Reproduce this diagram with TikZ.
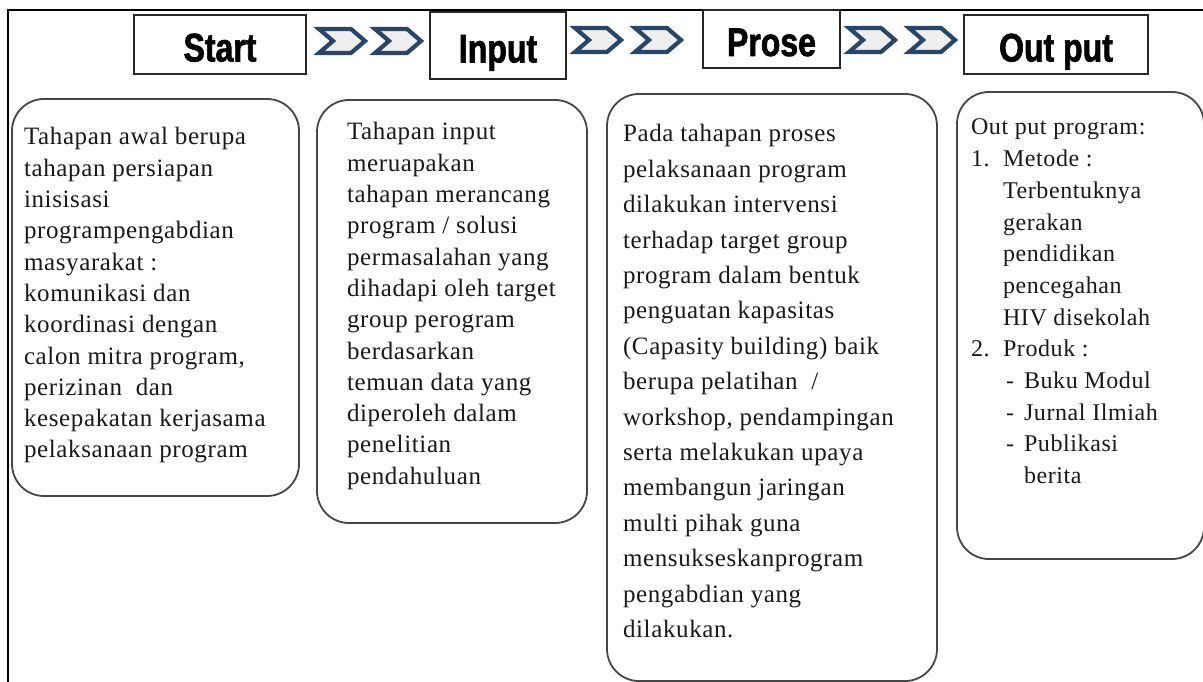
\documentclass[tikz,border=0pt]{standalone}
\usepackage{fontspec}
\setmainfont{Liberation Serif}
\newfontfamily\headfont[FakeStretch=0.8,BoldFeatures={FakeBold=1.6}]{Liberation Sans}
\newfontfamily\bodyfont[LetterSpace=2.5]{Liberation Serif}
\definecolor{chevblue}{RGB}{40,70,106}
\definecolor{chevfill}{RGB}{238,238,238}
\definecolor{cardline}{RGB}{70,70,70}
\begin{document}
\begin{tikzpicture}[x=1pt,y=-1pt,
  frame/.style={line width=1.5pt, draw=black},
  head/.style={draw=black!85, line width=1.8pt, inner sep=0pt, outer sep=0pt,
    font=\headfont\bfseries\fontsize{40pt}{40pt}\selectfont, text height=34pt, text depth=0pt},
  card/.style={draw=cardline, line width=1.8pt, rounded corners=32pt, inner sep=0pt},
  body/.style={inner sep=0pt, outer sep=0pt, anchor=base west, text=black!90,
    font=\bodyfont\fontsize{25pt}{31.3pt}\selectfont},
  chevron/.pic={\draw[draw=chevblue, fill=chevfill, line width=4.2pt, line join=miter]
    (-23,-12) -- (9,-12) -- (23,0) -- (9,12) -- (-23,12) -- (-9,0) -- cycle;}
]
\useasboundingbox (0,0) rectangle (1203,682);
% outer frame
\coordinate (fbl) at (8,682);
\coordinate (ftl) at (8,10);
\coordinate (ftr) at (1203,10);
\draw[frame] (fbl) -- (ftl) -- (ftr);

% header boxes
\node[head, minimum width=172, minimum height=59] (start) at (220,44.5) {Start};
\node[head, minimum width=136, minimum height=67] (input) at (498,45.5) {Input};
\node[head, minimum width=137, minimum height=58] (prose) at (771.5,39) {Prose};
\node[head, minimum width=184, minimum height=59] (output) at (1056,44.5) {Out put};

% chevrons
\pic at (342,41) {chevron};
\pic at (398,41) {chevron};
\pic at (598,40) {chevron};
\pic at (658,40) {chevron};
\pic at (872,40) {chevron};
\pic at (932,40) {chevron};

% cards
\node[card, minimum width=287, minimum height=397] (b1) at (155.5,297.5) {};
\node[card, minimum width=270, minimum height=423] (b2) at (452,311.5) {};
\node[card, minimum width=330, minimum height=587] (b3) at (772,387.5) {};
\node[card, minimum width=247, minimum height=467] (b4) at (1080.5,325.5) {};

% card texts
\node[body] (t1) at (24,145) {\parbox[t]{320pt}{\raggedright
Tahapan awal berupa\\
tahapan persiapan\\
inisisasi\\
programpengabdian\\
masyarakat :\\
komunikasi dan\\
koordinasi dengan\\
calon mitra program,\\
perizinan\ \ dan\\
kesepakatan kerjasama\\
pelaksanaan program}};

\node[body] (t2) at (347,140) {\parbox[t]{320pt}{\raggedright
Tahapan input\\
meruapakan\\
tahapan merancang\\
program / solusi\\
permasalahan yang\\
dihadapi oleh target\\
group perogram\\
berdasarkan\\
temuan data yang\\
diperoleh dalam\\
penelitian\\
pendahuluan}};

\node[body, font=\bodyfont\fontsize{25pt}{35.4pt}\selectfont] (t3) at (623,142) {\parbox[t]{340pt}{\raggedright
Pada tahapan proses\\
pelaksanaan program\\
dilakukan intervensi\\
terhadap target group\\
program dalam bentuk\\
penguatan kapasitas\\
(Capasity building) baik\\
berupa pelatihan\ \ /\\
workshop, pendampingan\\
serta melakukan upaya\\
membangun jaringan\\
multi pihak guna\\
mensukseskanprogram\\
pengabdian yang\\
dilakukan.}};

\node[body, font=\bodyfont\fontsize{24pt}{31.7pt}\selectfont] (t4) at (971,135) {\parbox[t]{320pt}{\raggedright
Out put program:\\
\makebox[32pt][l]{1.}Metode :\\
\hspace*{32pt}Terbentuknya\\
\hspace*{32pt}gerakan\\
\hspace*{32pt}pendidikan\\
\hspace*{32pt}pencegahan\\
\hspace*{32pt}HIV disekolah\\
\makebox[32pt][l]{2.}Produk :\\
\hspace*{35pt}\makebox[18pt][l]{-}Buku Modul\\
\hspace*{35pt}\makebox[18pt][l]{-}Jurnal Ilmiah\\
\hspace*{35pt}\makebox[18pt][l]{-}Publikasi\\
\hspace*{53pt}berita}};
\end{tikzpicture}
\end{document}
